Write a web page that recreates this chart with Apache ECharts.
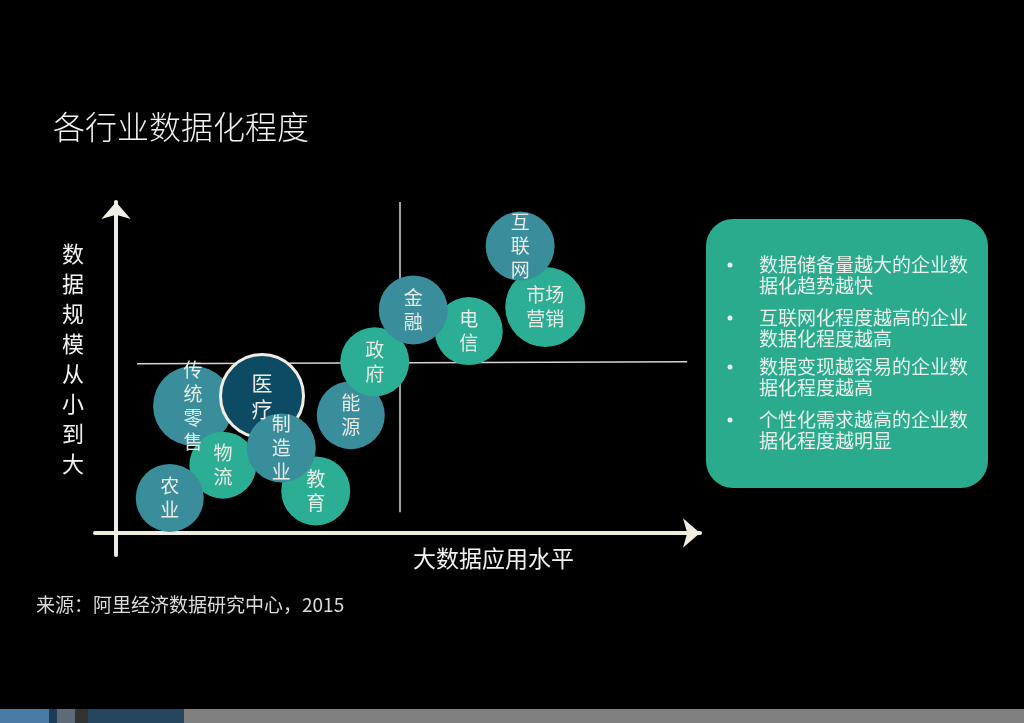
<!DOCTYPE html>
<html>
<head>
<meta charset="utf-8">
<script src="https://cdn.jsdelivr.net/npm/echarts@6/dist/echarts.min.js"></script>
<style>
html,body{margin:0;padding:0;background:#000;}
#chart{width:1024px;height:723px;}
</style>
</head>
<body>
<div id="chart"></div>
<script>
// ---- data ----
var industries = ['传统零售','物流','农业','医疗','教育','制造业','能源','政府','电信','金融','市场营销','互联网'];
var labelTexts = ['传\n统\n零\n售','物\n流','农\n业','医\n疗','教\n育','制\n造\n业','能\n源','政\n府','电\n信','金\n融','市场\n营销','互\n联\n网'];
var appLevel   = [13.2, 18.3, 9.2, 25.0, 34.2, 28.3, 40.2, 44.3, 60.4, 50.9, 73.5, 69.2];
var dataScale  = [38.4, 20.5, 10.6, 41.4, 12.7, 25.7, 35.6, 51.7, 61.0, 67.4, 68.3, 86.7];
var bubbleSize = [80, 67, 68, 83, 69, 69, 68, 69, 68, 69, 80, 69];
var groupKind  = ['blue','green','blue','dark','green','blue','blue','green','green','blue','green','blue'];
var dividerX = 48.6;
var titleText = '各行业数据化程度';
var yAxisLabel = '数据规模从小到大';
var xAxisLabel = '大数据应用水平';
var sourceText = '来源：阿里经济数据研究中心，2015';
var bulletLines = [
  '数据储备量越大的企业数\n据化趋势越快',
  '互联网化程度越高的企业\n数据化程度越高',
  '数据变现越容易的企业数\n据化程度越高',
  '个性化需求越高的企业数\n据化程度越明显'
];

var colors = {blue:'#3a8e9b', green:'#2bae93', dark:'#0d4a64'};
var font = '"Noto Sans CJK SC", sans-serif';
var cream = '#f0ede2';

var points = industries.map(function(n, i){
  var item = {
    name: n,
    value: [appLevel[i], dataScale[i]],
    symbolSize: bubbleSize[i],
    itemStyle: {color: colors[groupKind[i]], opacity: 1},
    label: {formatter: labelTexts[i]}
  };
  if (groupKind[i] === 'dark') {
    item.itemStyle.borderColor = cream;
    item.itemStyle.borderWidth = 3;
    item.label.fontSize = 21;
    item.label.lineHeight = 26;
  }
  return item;
});

var bulletY = [265, 318, 367, 420];
var graphics = [
  {type:'text', left:53, top:111, style:{text:titleText, font:'300 32px ' + font, fill:'#f2f2f2'}},
  {type:'text', left:62, top:239, style:{text:yAxisLabel.split('').join('\n'), font:'22px ' + font, lineHeight:30, fill:'#f2f2f2'}},
  {type:'text', left:413, top:547, style:{text:xAxisLabel, font:'23px ' + font, fill:'#f2f2f2'}},
  {type:'text', left:36, top:595, style:{text:sourceText, font:'19px ' + font, fill:'#dcdcdc'}},
  {type:'rect', shape:{x:706, y:219, width:282, height:269, r:27}, style:{fill:'#2aab8e'}},
  // bottom bar
  {type:'rect', shape:{x:0, y:709, width:49, height:14}, style:{fill:'#4a7ba6'}},
  {type:'rect', shape:{x:49, y:709, width:8, height:14}, style:{fill:'#1e3b57'}},
  {type:'rect', shape:{x:57, y:709, width:18, height:14}, style:{fill:'#5d6b78'}},
  {type:'rect', shape:{x:75, y:709, width:13, height:14}, style:{fill:'#333333'}},
  {type:'rect', shape:{x:88, y:709, width:96, height:14}, style:{fill:'#26455e'}},
  {type:'rect', shape:{x:184, y:709, width:840, height:14}, style:{fill:'#808080'}}
];
bulletLines.forEach(function(t, i){
  graphics.push({type:'circle', shape:{cx:730, cy:bulletY[i], r:2.5}, style:{fill:'#e8f0ea'}});
  graphics.push({type:'text', left:759, top:bulletY[i] - 11, style:{text:t, font:'19px ' + font, lineHeight:21, fill:'#e8f0ea'}});
});

var chart = echarts.init(document.getElementById('chart'));
chart.setOption({
  backgroundColor:'#000',
  animation:false,
  grid:{left:95, right:324, top:202, bottom:168},
  xAxis:{
    type:'value', min:-3.6, max:100,
    axisLine:{onZero:true, lineStyle:{color:cream, width:4}, symbol:['none','arrow'], symbolSize:[22,17]},
    axisTick:{show:false}, axisLabel:{show:false}, splitLine:{show:false}
  },
  yAxis:{
    type:'value', min:-6.65, max:100,
    axisLine:{onZero:true, lineStyle:{color:cream, width:4}, symbol:['none','arrow'], symbolSize:[22,17]},
    axisTick:{show:false}, axisLabel:{show:false}, splitLine:{show:false}
  },
  graphic: graphics,
  series:[{
    type:'scatter',
    name:'dividers',
    data: [],
    z:1,
    clip:false,
    markLine:{
      silent:true, symbol:['none','none'], label:{show:false}, z:1,
      lineStyle:{color:'#d6d6d6', width:1.5, type:'solid', opacity:1},
      data:[
        [{coord:[dividerX, 100]}, {coord:[dividerX, 6.3]}],
        [{coord:[3.6, 51.1]}, {coord:[97.8, 51.7]}]
      ]
    }
  },{
    type:'scatter',
    name:'industries',
    clip:false,
    data: points,
    label:{show:true, position:'inside', color:'#e9ece6', fontFamily:'"Noto Sans CJK SC", sans-serif', fontSize:19, lineHeight:24},
    emphasis:{disabled:true},
    z:5
  }]
});
</script>
</body>
</html>
